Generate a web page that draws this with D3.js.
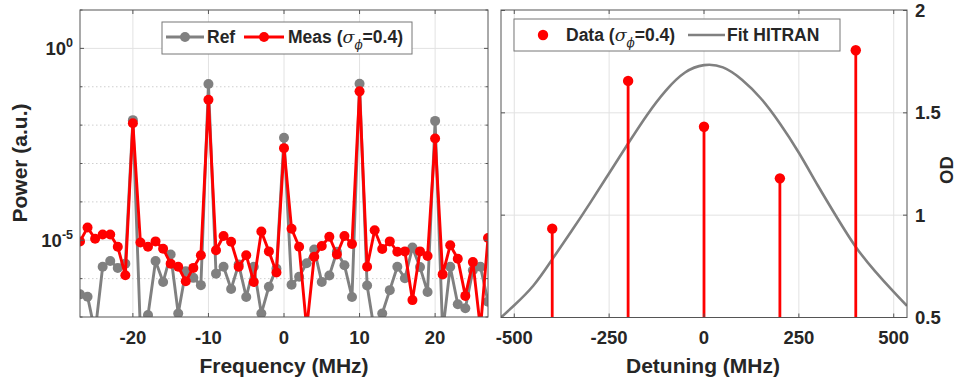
<!DOCTYPE html>
<html>
<head>
<meta charset="utf-8">
<script src="https://cdn.jsdelivr.net/npm/d3@7"></script>
<style>
  body { margin: 0; background: #fff; }
  svg { font-family: "Liberation Sans", Arial, sans-serif; font-weight: bold; }
  text { fill: #262626; }
</style>
</head>
<body>
<svg id="chart" width="959" height="383"></svg>
<script>
// ---- left panel data (power in log10, frequency in MHz) ----
const freq = [-27,-26,-25,-24,-23,-22,-21,-20,-19,-18,-17,-16,-15,-14,-13,-12,-11,-10,
  -9,-8,-7,-6,-5,-4,-3,-2,-1,0,1,2,3,4,5,6,7,8,9,10,11,12,13,14,15,16,17,18,19,20,
  21,22,23,24,25,26,27];
const refLog10 = [-6.41,-6.47,-7.4,-5.69,-5.54,-5.72,-5.61,-1.87,-7.4,-6.95,-5.54,-6.09,-5.37,-6.91,-5.81,-5.98,-6.17,-0.93,
  -5.87,-5.69,-6.27,-5.63,-6.48,-5.69,-6.91,-6.21,-5.74,-2.33,-6.16,-5.95,-5.6,-5.24,-6.09,-5.92,-5.3,-5.65,-6.48,-0.92,
  -6.18,-7.4,-6.91,-6.3,-5.69,-5.99,-5.19,-5.7,-6.35,-1.89,-7.4,-5.69,-6.67,-6.77,-5.78,-5.69,-6.6];
const measLog10 = [-5.03,-4.67,-4.96,-4.85,-4.85,-5.17,-5.91,-1.95,-5.06,-5.17,-5.03,-5.22,-5.61,-5.69,-6.07,-5.72,-5.39,-1.34,
  -5.26,-4.89,-5.04,-5.69,-5.39,-6.09,-4.77,-5.29,-5.84,-2.60,-4.70,-5.17,-7.3,-5.43,-5.15,-4.91,-5.37,-4.89,-5.1,-1.12,
  -5.69,-4.74,-5.23,-5.03,-5.3,-5.29,-6.56,-5.29,-5.41,-2.35,-5.89,-5.13,-5.48,-6.45,-5.57,-7.3,-4.94];
const freqTicks = [-20, -10, 0, 10, 20];
const powerDecades = [1, 0, -1, -2, -3, -4, -5, -6, -7];
const powerLabelled = [0, -5];

// ---- right panel data ----
const detuning = [-400, -200, 0, 200, 400];
const odData = [0.934, 1.656, 1.432, 1.18, 1.806];
const fitDetuning = [-535,-500,-450,-400,-350,-300,-250,-200,-150,-100,-50,0,50,100,150,200,250,300,350,400,450,500,535];
const fitOD = [0.50,0.56,0.655,0.784,0.92,1.06,1.205,1.35,1.49,1.61,1.697,1.733,1.722,1.662,1.57,1.448,1.305,1.145,0.99,0.845,0.728,0.625,0.557];
const detuneTicks = [-500, -250, 0, 250, 500];
const odTicks = [0.5, 1, 1.5, 2];

const svg = d3.select("#chart");
const axisCol = "#555";
const gridCol = "#e2e2e2";

// ================= left panel =================
const L = {left: 80, right: 488, top: 10, bottom: 317};
const x1 = d3.scaleLinear().domain([-27, 27]).range([L.left, L.right]);
const y1 = d3.scaleLog().domain([1e-7, 10]).range([L.bottom, L.top]);

const gL = svg.append("g");
gL.append("rect").attr("x", L.left).attr("y", L.top)
  .attr("width", L.right - L.left).attr("height", L.bottom - L.top).attr("fill", "#fff");

// grid
gL.selectAll(".vg").data(freqTicks).join("line")
  .attr("x1", d => x1(d)).attr("x2", d => x1(d))
  .attr("y1", L.top).attr("y2", L.bottom)
  .attr("stroke", gridCol).attr("stroke-width", 1);
gL.selectAll(".hg").data(powerDecades.filter(d => d > -7 && d < 1)).join("line")
  .attr("x1", L.left).attr("x2", L.right)
  .attr("y1", d => y1(Math.pow(10, d))).attr("y2", d => y1(Math.pow(10, d)))
  .attr("stroke", d => powerLabelled.includes(d) ? gridCol : "#cfcfcf")
  .attr("stroke-dasharray", d => powerLabelled.includes(d) ? null : "1.5,2.5")
  .attr("stroke-width", 1);

svg.append("clipPath").attr("id", "clipL").append("rect")
  .attr("x", L.left).attr("y", L.top).attr("width", L.right - L.left).attr("height", L.bottom - L.top);

const refPts = freq.map((f, i) => ({f, v: Math.pow(10, refLog10[i])}));
const measPts = freq.map((f, i) => ({f, v: Math.pow(10, measLog10[i])}));
const line1 = d3.line().x(d => x1(d.f)).y(d => y1(d.v));

const plotL = gL.append("g").attr("clip-path", "url(#clipL)");
function drawSeries(pts, col){
  plotL.append("path").datum(pts)
    .attr("d", line1).attr("fill", "none")
    .attr("stroke", col).attr("stroke-width", 2.9).attr("stroke-linejoin", "round");
  plotL.append("g").selectAll("circle").data(pts).join("circle")
    .attr("cx", d => x1(d.f)).attr("cy", d => y1(d.v)).attr("r", 5)
    .attr("fill", col);
}
drawSeries(refPts, "#808080");
drawSeries(measPts, "#ff0000");

// box + ticks
gL.append("rect").attr("x", L.left).attr("y", L.top)
  .attr("width", L.right - L.left).attr("height", L.bottom - L.top)
  .attr("fill", "none").attr("stroke", axisCol).attr("stroke-width", 1);
freqTicks.forEach(t => {
  gL.append("line").attr("x1", x1(t)).attr("x2", x1(t)).attr("y1", L.bottom).attr("y2", L.bottom - 4).attr("stroke", axisCol);
  gL.append("line").attr("x1", x1(t)).attr("x2", x1(t)).attr("y1", L.top).attr("y2", L.top + 4).attr("stroke", axisCol);
  gL.append("text").attr("x", x1(t)).attr("y", 344).attr("text-anchor", "middle")
    .attr("font-size", 18.5).text(t);
});
powerDecades.forEach(d => {
  const yy = y1(Math.pow(10, d));
  const len = powerLabelled.includes(d) ? 4 : 2.5;
  gL.append("line").attr("x1", L.left).attr("x2", L.left + len).attr("y1", yy).attr("y2", yy).attr("stroke", axisCol);
  gL.append("line").attr("x1", L.right).attr("x2", L.right - len).attr("y1", yy).attr("y2", yy).attr("stroke", axisCol);
});
powerLabelled.forEach(d => {
  const yy = y1(Math.pow(10, d));
  const t = gL.append("text").attr("x", 73).attr("y", yy + 6.5).attr("text-anchor", "end").attr("font-size", 18.5);
  t.append("tspan").text("10");
  t.append("tspan").attr("dy", -8).attr("font-size", 12.5).text(d);
});
gL.append("text").attr("x", 284).attr("y", 373).attr("text-anchor", "middle")
  .attr("font-size", 21).text("Frequency (MHz)");
gL.append("text").attr("transform", "translate(27,163) rotate(-90)").attr("text-anchor", "middle")
  .attr("font-size", 21).text("Power (a.u.)");

// legend
const lgL = gL.append("g");
lgL.append("rect").attr("x", 162).attr("y", 22).attr("width", 250).attr("height", 32)
  .attr("fill", "#fff").attr("stroke", "#777").attr("stroke-width", 1);
lgL.append("line").attr("x1", 166).attr("x2", 204).attr("y1", 37).attr("y2", 37).attr("stroke", "#808080").attr("stroke-width", 2.9);
lgL.append("circle").attr("cx", 185).attr("cy", 37).attr("r", 5).attr("fill", "#808080");
lgL.append("text").attr("x", 207).attr("y", 43).attr("font-size", 17.5).text("Ref");
lgL.append("line").attr("x1", 244).attr("x2", 284).attr("y1", 37).attr("y2", 37).attr("stroke", "#ff0000").attr("stroke-width", 2.9);
lgL.append("circle").attr("cx", 264).attr("cy", 37).attr("r", 5).attr("fill", "#ff0000");
function sigmaLabel(g, x, y, prefix){
  const t = g.append("text").attr("x", x).attr("y", y).attr("font-size", 17.5);
  t.append("tspan").text(prefix + " (");
  t.append("tspan").attr("font-style", "italic").attr("font-weight", "normal")
    .attr("font-family", "'DejaVu Serif', serif").text("σ");
  t.append("tspan").attr("dy", 6).attr("font-size", 12).attr("font-style", "italic")
    .attr("font-weight", "normal").attr("font-family", "'DejaVu Serif', serif").text("ϕ");
  t.append("tspan").attr("dy", -6).text("=0.4)");
}
sigmaLabel(lgL, 288, 43, "Meas");

// ================= right panel =================
const R = {left: 501, right: 907, top: 10, bottom: 317.5};
const x2 = d3.scaleLinear().domain([-535, 535]).range([R.left, R.right]);
const y2 = d3.scaleLinear().domain([0.5, 2]).range([R.bottom, R.top + 0.5]);

const gR = svg.append("g");
gR.append("rect").attr("x", R.left).attr("y", R.top)
  .attr("width", R.right - R.left).attr("height", R.bottom - R.top).attr("fill", "#fff");
gR.selectAll(".vg").data(detuneTicks).join("line")
  .attr("x1", d => x2(d)).attr("x2", d => x2(d)).attr("y1", R.top).attr("y2", R.bottom)
  .attr("stroke", gridCol);
gR.selectAll(".hg").data(odTicks.slice(1, 3)).join("line")
  .attr("x1", R.left).attr("x2", R.right).attr("y1", d => y2(d)).attr("y2", d => y2(d))
  .attr("stroke", gridCol);

svg.append("clipPath").attr("id", "clipR").append("rect")
  .attr("x", R.left).attr("y", R.top).attr("width", R.right - R.left).attr("height", R.bottom - R.top);
const plotR = gR.append("g").attr("clip-path", "url(#clipR)");

const fitPts = fitDetuning.map((d, i) => ({d, v: fitOD[i]}));
plotR.append("path").datum(fitPts)
  .attr("d", d3.line().x(p => x2(p.d)).y(p => y2(p.v)).curve(d3.curveNatural))
  .attr("fill", "none").attr("stroke", "#808080").attr("stroke-width", 2.6);

const stems = detuning.map((d, i) => ({d, v: odData[i]}));
plotR.selectAll(".stem").data(stems).join("line")
  .attr("x1", p => x2(p.d)).attr("x2", p => x2(p.d))
  .attr("y1", R.bottom).attr("y2", p => y2(p.v))
  .attr("stroke", "#ff0000").attr("stroke-width", 2.8);
plotR.selectAll(".dot").data(stems).join("circle")
  .attr("cx", p => x2(p.d)).attr("cy", p => y2(p.v)).attr("r", 5.2)
  .attr("fill", "#ff0000");

gR.append("rect").attr("x", R.left).attr("y", R.top)
  .attr("width", R.right - R.left).attr("height", R.bottom - R.top)
  .attr("fill", "none").attr("stroke", axisCol);
detuneTicks.forEach(t => {
  gR.append("line").attr("x1", x2(t)).attr("x2", x2(t)).attr("y1", R.bottom).attr("y2", R.bottom - 4).attr("stroke", axisCol);
  gR.append("line").attr("x1", x2(t)).attr("x2", x2(t)).attr("y1", R.top).attr("y2", R.top + 4).attr("stroke", axisCol);
  gR.append("text").attr("x", x2(t)).attr("y", 344).attr("text-anchor", "middle")
    .attr("font-size", 18.5).text(t);
});
odTicks.forEach(t => {
  gR.append("line").attr("x1", R.right).attr("x2", R.right - 4).attr("y1", y2(t)).attr("y2", y2(t)).attr("stroke", axisCol);
  gR.append("line").attr("x1", R.left).attr("x2", R.left + 4).attr("y1", y2(t)).attr("y2", y2(t)).attr("stroke", axisCol);
  gR.append("text").attr("x", 915).attr("y", y2(t) + 6.5).attr("font-size", 18.5).text(t);
});
gR.append("text").attr("x", 703).attr("y", 373).attr("text-anchor", "middle")
  .attr("font-size", 21).text("Detuning (MHz)");
gR.append("text").attr("transform", "translate(953,170) rotate(-90)").attr("text-anchor", "middle")
  .attr("font-size", 18.5).text("OD");

const lgR = gR.append("g");
lgR.append("rect").attr("x", 514).attr("y", 19).attr("width", 326).attr("height", 32)
  .attr("fill", "#fff").attr("stroke", "#777");
lgR.append("circle").attr("cx", 543).attr("cy", 35).attr("r", 5.2).attr("fill", "#ff0000");
sigmaLabel(lgR, 566, 41, "Data");
lgR.append("line").attr("x1", 688).attr("x2", 725).attr("y1", 35).attr("y2", 35)
  .attr("stroke", "#808080").attr("stroke-width", 2.6);
lgR.append("text").attr("x", 727).attr("y", 41).attr("font-size", 17.5).text("Fit HITRAN");
</script>
</body>
</html>
